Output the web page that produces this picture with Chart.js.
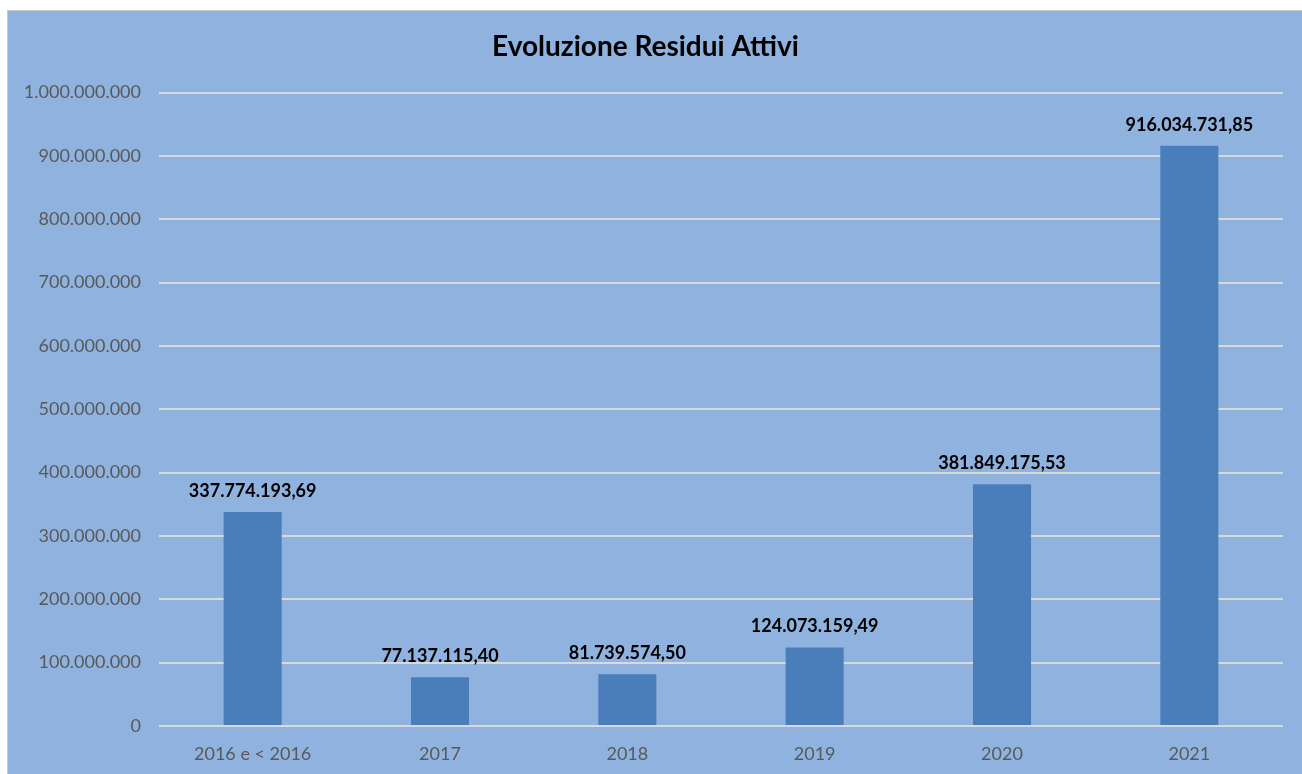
<!DOCTYPE html>
<html>
<head>
<meta charset="utf-8">
<script src="https://cdn.jsdelivr.net/npm/chart.js@4/dist/chart.umd.min.js"></script>
<style>
  html, body { margin: 0; padding: 0; background: #fff; }
  #box {
    position: absolute; left: 7px; top: 10px; width: 1295px; height: 764px;
    background: #8fb3de; border-top: 1px solid #c9c9c9; border-left: 1px solid #c9c9c9;
    box-sizing: border-box;
  }
  #chart { display: block; }
</style>
</head>
<body>
<div id="box"><canvas id="chart" width="1294" height="763"></canvas></div>
<script>
var categories = ['2016 e < 2016', '2017', '2018', '2019', '2020', '2021'];
var residui = [337774193.69, 77137115.40, 81739574.50, 124073159.49, 381849175.53, 916034731.85];
var yTicks = [0, 100000000, 200000000, 300000000, 400000000, 500000000, 600000000, 700000000, 800000000, 900000000, 1000000000];

// formato italiano: punti per le migliaia, virgola per i decimali
function fmt(v, dec) {
  var s = v.toFixed(dec);
  var parts = s.split('.');
  var intPart = parts[0].replace(/\B(?=(\d{3})+(?!\d))/g, '.');
  return dec ? intPart + ',' + parts[1] : intPart;
}

var labelPlugin = {
  id: 'valueLabels',
  afterDatasetsDraw: function (chart) {
    var ctx = chart.ctx;
    var meta = chart.getDatasetMeta(0);
    ctx.save();
    ctx.font = 'bold 18px Lato';
    ctx.fillStyle = '#000';
    ctx.textAlign = 'center';
    ctx.textBaseline = 'middle';
    meta.data.forEach(function (bar, i) {
      ctx.fillText(fmt(residui[i], 2), bar.x, bar.y - 21);
    });
    ctx.restore();
  }
};

new Chart(document.getElementById('chart').getContext('2d'), {
  type: 'bar',
  data: {
    labels: categories,
    datasets: [{
      label: 'Residui Attivi',
      data: residui,
      backgroundColor: '#4a7ebb',
      categoryPercentage: 1,
      barPercentage: 0.31
    }]
  },
  options: {
    responsive: false,
    animation: false,
    layout: { padding: { top: 0, right: 19, bottom: 0, left: 0 } },
    plugins: {
      legend: { display: false },
      tooltip: { enabled: false },
      title: {
        display: true,
        text: 'Evoluzione Residui Attivi',
        color: '#000',
        font: { family: 'Lato', size: 28, weight: 'bold', lineHeight: 1.2 },
        padding: { top: 19, bottom: 29 }
      }
    },
    scales: {
      x: {
        grid: { display: false },
        border: { display: false },
        ticks: { color: '#595959', font: { family: 'Lato', size: 18 }, padding: 9 },
        afterFit: function (s) { s.height = 48; }
      },
      y: {
        min: 0, max: 1000000000,
        afterBuildTicks: function (s) { s.ticks = yTicks.map(function (v) { return { value: v }; }); },
        grid: { color: '#d9d9d9', lineWidth: 2, drawTicks: false },
        border: { display: false },
        ticks: {
          color: '#595959', font: { family: 'Lato', size: 18 }, padding: 18,
          callback: function (v) { return fmt(v, 0); }
        },
        afterFit: function (s) { s.width = 151; }
      }
    }
  },
  plugins: [labelPlugin]
});
</script>
</body>
</html>
